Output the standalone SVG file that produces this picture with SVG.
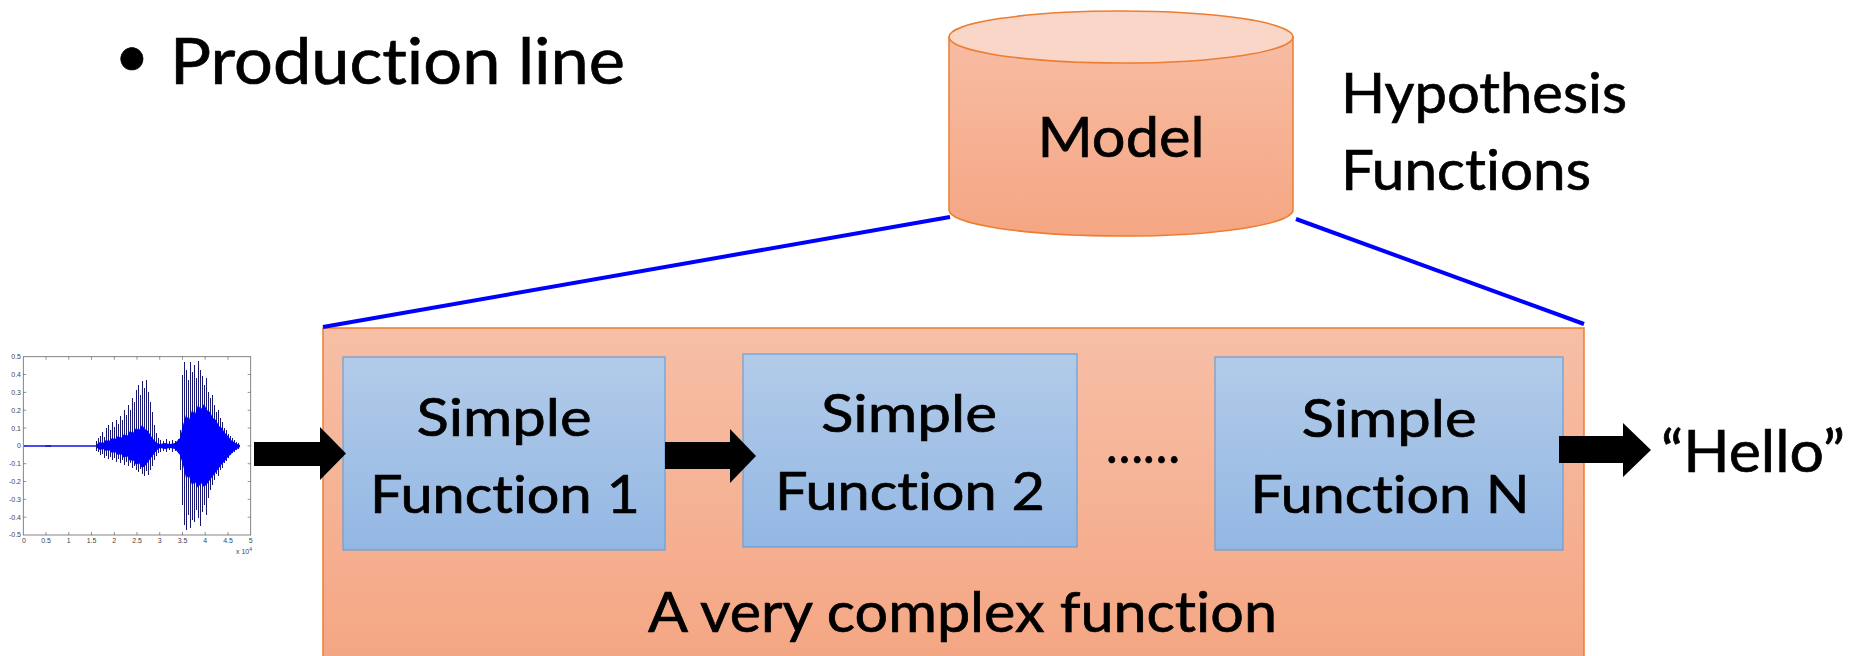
<svg xmlns="http://www.w3.org/2000/svg" width="1855" height="656" viewBox="0 0 1855 656">
<defs>
<linearGradient id="gOrange" x1="0" y1="328" x2="0" y2="690" gradientUnits="userSpaceOnUse">
<stop offset="0" stop-color="#F7BFA7"/><stop offset="1" stop-color="#F4A480"/>
</linearGradient>
<linearGradient id="gCyl" x1="0" y1="37" x2="0" y2="236" gradientUnits="userSpaceOnUse">
<stop offset="0" stop-color="#F7BCA3"/><stop offset="1" stop-color="#F5A683"/>
</linearGradient>
<linearGradient id="gBlue" x1="0" y1="0" x2="0" y2="1">
<stop offset="0" stop-color="#B2CBE9"/><stop offset="1" stop-color="#93B7E3"/>
</linearGradient>
<style>
.t{font-family:Lato,"Open Sans","Liberation Sans",sans-serif;fill:#000;stroke:#000;stroke-width:0.7;font-variant-ligatures:none;font-feature-settings:"liga" 0,"clig" 0}
.fbox{fill:url(#gBlue);stroke:#6A9FD6;stroke-width:1.2}
.orange{stroke:#ED7D31;stroke-width:1.5}
.link{stroke:#0000FF;stroke-width:4;fill:none}
.arrow{fill:#000}
.tick{font-family:"Liberation Sans",Arial,sans-serif;font-size:7px;fill:#444}
</style>
</defs>
<rect width="1855" height="656" fill="#fff"/>

<g id="title">
<text class="t" x="132" y="77" font-size="60" text-anchor="middle">•</text>
<text class="t" x="170" y="84" font-size="64" textLength="455" lengthAdjust="spacingAndGlyphs">Production line</text>
</g>

<g id="waveform">
<rect x="23.3" y="356.7" width="227.4" height="178.3" fill="#fff" stroke="#666" stroke-width="0.8"/>
<path stroke="#666" stroke-width="0.7" fill="none" d="M23.3,374.5h3M23.3,392.4h3M23.3,410.2h3M23.3,428h3M23.3,445.9h3M23.3,463.7h3M23.3,481.5h3M23.3,499.3h3M23.3,517.2h3M250.7,374.5h-3M250.7,392.4h-3M250.7,410.2h-3M250.7,428h-3M250.7,445.9h-3M250.7,463.7h-3M250.7,481.5h-3M250.7,499.3h-3M250.7,517.2h-3M46,535v-3M68.8,535v-3M91.5,535v-3M114.3,535v-3M137,535v-3M159.7,535v-3M182.5,535v-3M205.2,535v-3M228,535v-3M46,356.7v3M68.8,356.7v3M91.5,356.7v3M114.3,356.7v3M137,356.7v3M159.7,356.7v3M182.5,356.7v3M205.2,356.7v3M228,356.7v3"/>
<g class="tick" text-anchor="end">
<text x="21" y="359">0.5</text><text x="21" y="377">0.4</text><text x="21" y="395">0.3</text><text x="21" y="412.5">0.2</text><text x="21" y="430.5">0.1</text><text x="21" y="448">0</text><text x="21" y="466">-0.1</text><text x="21" y="484">-0.2</text><text x="21" y="502">-0.3</text><text x="21" y="519.5">-0.4</text><text x="21" y="537">-0.5</text>
</g>
<g class="tick" text-anchor="middle">
<text x="24" y="543">0</text><text x="46" y="543">0.5</text><text x="68.8" y="543">1</text><text x="91.5" y="543">1.5</text><text x="114.3" y="543">2</text><text x="137" y="543">2.5</text><text x="159.7" y="543">3</text><text x="182.5" y="543">3.5</text><text x="205.2" y="543">4</text><text x="228" y="543">4.5</text><text x="250.7" y="543">5</text>
</g>
<text class="tick" x="236" y="554" font-size="6">x 10<tspan dy="-3" font-size="5">4</tspan></text>
<path d="M24,446H240" stroke="#1010E0" stroke-width="1.6"/>
<path d="M45,446h6M50,445v2" stroke="#2020C0" stroke-width="1.5"/>
<path transform="translate(0.5,0)" fill="none" stroke="#181870" stroke-width="1" d="M96,441V451M98,438V452M100,436V455M102,432V454M104,437V458M106,428V456M108,425V459M110,430V457M112,422V460M114,427V458M116,420V462M118,424V459M120,416V463M122,420V460M124,410V465M126,415V462M128,405V466M130,410V463M132,398V468M134,402V466M136,390V470M138,385V472M140,395V469M142,381V474M144,388V476M146,380V471M148,392V475M150,402V470M152,412V466M154,425V460M156,433V456M158,438V453M160,440V452M163,441V451M166,439V452M169,441V450M172,440V452M175,441V451M178,439V453M180,430V470M182,375V505M184,362V525M186,370V530M188,380V515M190,362V528M192,372V520M194,365V522M196,378V510M198,361V518M200,370V526M202,376V512M204,385V505M206,378V515M208,392V498M210,398V490M212,395V485M214,405V480M216,412V474M218,410V476M220,418V470M222,422V468M224,428V463M226,430V461M228,434V458M230,436V455M232,438V453M234,440V452M236,442V450M238,443V449"/>
<path fill="#0000FF" d="M97,444L100,442L103,443L106,440L109,441L112,438L115,439L118,436L121,438L124,434L127,436L130,431L133,433L136,428L139,430L142,425L145,429L148,431L151,436L154,440L157,443L160,444L165,443L170,444L175,443L180,438L183,425L186,415L189,420L192,410L195,414L198,405L201,409L204,404L207,410L210,412L213,418L216,420L219,426L222,428L225,433L228,436L231,440L234,442L237,444L240,445L240,447L237,449L234,451L231,454L228,457L225,461L222,464L219,468L216,472L213,476L210,480L207,484L204,487L201,483L198,488L195,482L192,485L189,476L186,478L183,465L180,455L175,449L170,448L165,449L160,448L157,450L154,454L151,458L148,462L145,466L142,468L139,463L136,465L133,460L130,461L127,456L124,458L121,454L118,455L115,452L112,453L109,450L106,451L103,449L100,450L97,448Z"/>
</g>

<g id="complex-function">
<rect class="orange" x="323" y="328" width="1261" height="360" fill="url(#gOrange)"/>
<text class="t" x="648" y="632" font-size="56" textLength="629" lengthAdjust="spacingAndGlyphs">A very complex function</text>
</g>

<g id="connectors">
<line class="link" x1="950" y1="217" x2="323" y2="327"/>
<line class="link" x1="1296" y1="219" x2="1584" y2="324"/>
</g>

<g id="model">
<path class="orange" fill="url(#gCyl)" d="M949,37V210A172,26 0 0 0 1293,210V37Z"/>
<ellipse class="orange" cx="1121" cy="37" rx="172" ry="26" fill="#F9D6C7"/>
<text class="t" x="1121" y="157" font-size="57" text-anchor="middle" textLength="167" lengthAdjust="spacingAndGlyphs">Model</text>
</g>

<g id="hypothesis-label">
<text class="t" x="1341" y="113" font-size="57" textLength="286" lengthAdjust="spacingAndGlyphs">Hypothesis</text>
<text class="t" x="1341" y="190" font-size="57" textLength="250" lengthAdjust="spacingAndGlyphs">Functions</text>
</g>

<g id="f1">
<rect class="fbox" x="343" y="357" width="322" height="193"/>
<text class="t" x="504" y="436" font-size="53" text-anchor="middle" textLength="175" lengthAdjust="spacingAndGlyphs">Simple</text>
<text class="t" x="505" y="513" font-size="53" text-anchor="middle" textLength="270" lengthAdjust="spacingAndGlyphs">Function 1</text>
</g>

<g id="f2">
<rect class="fbox" x="743" y="354" width="334" height="193"/>
<text class="t" x="909" y="432" font-size="53" text-anchor="middle" textLength="176" lengthAdjust="spacingAndGlyphs">Simple</text>
<text class="t" x="910" y="510" font-size="53" text-anchor="middle" textLength="270" lengthAdjust="spacingAndGlyphs">Function 2</text>
</g>

<g id="dots">
<text class="t" x="1106" y="463" font-size="53" textLength="74" lengthAdjust="spacingAndGlyphs">……</text>
</g>

<g id="fn">
<rect class="fbox" x="1215" y="357" width="348" height="193"/>
<text class="t" x="1389" y="437" font-size="53" text-anchor="middle" textLength="175" lengthAdjust="spacingAndGlyphs">Simple</text>
<text class="t" x="1390" y="513" font-size="53" text-anchor="middle" textLength="279" lengthAdjust="spacingAndGlyphs">Function N</text>
</g>

<g id="hello">
<text class="t" x="1661" y="472" font-size="59" textLength="184" lengthAdjust="spacingAndGlyphs">“Hello”</text>
</g>

<g id="arrows">
<polygon class="arrow" points="254,442 320,442 320,427 346,453.5 320,480 320,466 254,466"/>
<polygon class="arrow" points="665,442 730,442 730,429 756,456 730,483 730,469 665,469"/>
<polygon class="arrow" points="1559,436 1623,436 1623,423 1651,450 1623,477 1623,463 1559,463"/>
</g>
</svg>
